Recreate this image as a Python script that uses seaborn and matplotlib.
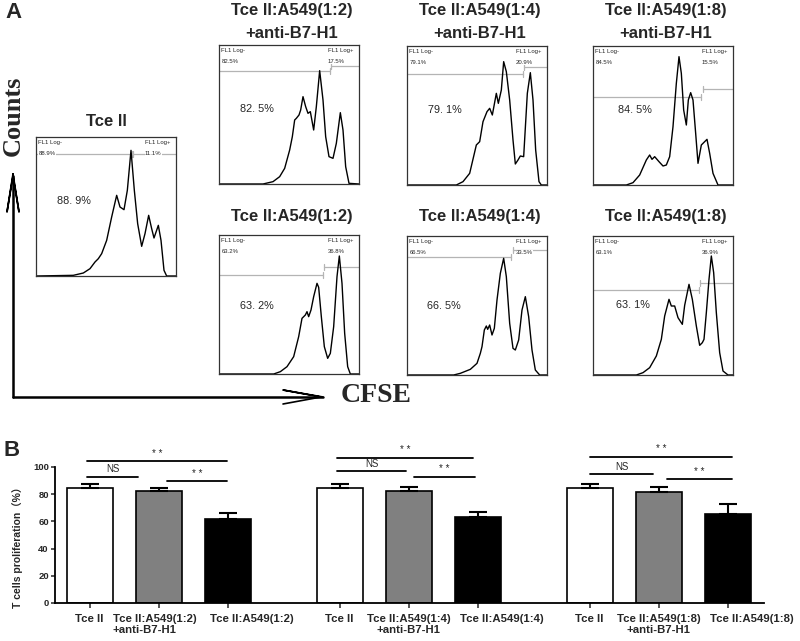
import matplotlib
matplotlib.use("Agg")
import matplotlib.pyplot as plt
import matplotlib.transforms as mtrans
import seaborn as sns
import pandas as pd
import numpy as np

sns.set_theme(style="white")
plt.rcParams['font.family'] = ['Liberation Sans', 'DejaVu Sans', 'Noto Sans CJK SC']

# ---------------- Panel A data (flow histograms, channel 0-420, counts 0-417) ----------------
tcell_x = [0, 112, 142, 162, 177, 187, 197, 212, 227, 242, 252, 264, 274, 285, 295, 305, 317, 327, 338, 347, 354, 367, 375, 384, 392, 420]
tcell_y = [0, 2, 9, 22, 42, 52, 67, 107, 177, 242, 207, 199, 257, 377, 257, 157, 89, 127, 182, 142, 114, 152, 107, 17, 0, 0]

r12a_x = [0, 132, 162, 182, 197, 212, 220, 227, 232, 240, 245, 252, 260, 267, 274, 284, 292, 302, 312, 320, 330, 342, 352, 364, 372, 380, 390, 420]
r12a_y = [0, 0, 7, 22, 47, 102, 142, 192, 197, 207, 222, 262, 232, 212, 217, 162, 232, 340, 252, 142, 82, 77, 122, 214, 162, 52, 2, 0]

r14a_x = [0, 148, 168, 188, 208, 218, 228, 240, 248, 256, 268, 274, 283, 290, 298, 308, 318, 325, 333, 340, 350, 361, 370, 378, 386, 396, 403, 420]
r14a_y = [0, 0, 10, 35, 120, 130, 190, 220, 230, 210, 275, 245, 285, 370, 340, 255, 135, 63, 75, 87, 85, 275, 337, 255, 105, 10, 0, 0]

r18a_x = [0, 100, 120, 140, 160, 170, 177, 185, 198, 210, 220, 230, 240, 250, 258, 265, 272, 280, 286, 293, 300, 308, 315, 325, 332, 342, 350, 360, 375, 420]
r18a_y = [0, 0, 7, 30, 75, 90, 77, 85, 70, 57, 60, 85, 175, 305, 385, 335, 225, 180, 255, 277, 255, 155, 65, 120, 127, 137, 95, 35, 0, 0]

r12_x = [0, 164, 184, 204, 224, 239, 249, 259, 264, 269, 276, 284, 294, 299, 307, 316, 326, 334, 344, 354, 361, 369, 377, 386, 394, 420]
r12_y = [0, 0, 7, 22, 52, 112, 167, 177, 187, 172, 192, 232, 272, 260, 172, 82, 47, 62, 142, 292, 354, 272, 122, 22, 0, 0]

r14_x = [0, 140, 160, 190, 210, 220, 225, 232, 238, 242, 248, 255, 262, 270, 280, 290, 298, 308, 318, 325, 335, 345, 355, 365, 375, 385, 398, 420]
r14_y = [0, 0, 5, 17, 35, 65, 85, 135, 147, 137, 150, 120, 140, 225, 305, 350, 295, 155, 80, 75, 105, 195, 235, 175, 75, 15, 0, 0]

r18_x = [0, 130, 150, 170, 190, 205, 215, 228, 235, 245, 255, 268, 275, 288, 298, 310, 320, 328, 333, 340, 348, 355, 362, 370, 380, 390, 405, 420]
r18_y = [0, 0, 7, 22, 57, 107, 177, 227, 207, 207, 172, 152, 209, 272, 227, 147, 89, 97, 107, 187, 287, 357, 307, 187, 67, 12, 0, 0]

titles = [["Tce ll"],
          ["Tce ll:A549(1:2)", "+anti-B7-H1"],
          ["Tce ll:A549(1:4)", "+anti-B7-H1"],
          ["Tce ll:A549(1:8)", "+anti-B7-H1"],
          ["Tce ll:A549(1:2)"],
          ["Tce ll:A549(1:4)"],
          ["Tce ll:A549(1:8)"]]
neg_pct = ["88.9%", "82.5%", "79.1%", "84.5%", "63.2%", "66.5%", "63.1%"]
pos_pct = ["11.1%", "17.5%", "20.9%", "15.5%", "36.8%", "33.5%", "36.9%"]
big_pct = ["88. 9%", "82. 5%", "79. 1%", "84. 5%", "63. 2%", "66. 5%", "63. 1%"]
gate_split = [287, 332, 348, 325, 312, 313, 318]
gate_left = [367, 340, 333, 265, 297, 353, 255]
gate_right = [367, 355, 353, 288, 322, 375, 275]
big_pct_xy = [(113, 225), (113, 224), (114, 225), (125, 225), (114, 204), (110, 207), (120, 209)]
traces = [(tcell_x, tcell_y), (r12a_x, r12a_y), (r14a_x, r14a_y), (r18a_x, r18a_y),
          (r12_x, r12_y), (r14_x, r14_y), (r18_x, r18_y)]

# ---------------- Panel B data ----------------
bar_labels = ["Tce ll", "Tce ll:A549(1:2)\n+anti-B7-H1", "Tce ll:A549(1:2)",
              "Tce ll", "Tce ll:A549(1:4)\n+anti-B7-H1", "Tce ll:A549(1:4)",
              "Tce ll", "Tce ll:A549(1:8)\n+anti-B7-H1", "Tce ll:A549(1:8)"]
conditions = ["Tcell", "anti", "coculture"] * 3
means = [84.3, 82.6, 61.8, 84.3, 82.4, 63.5, 84.6, 81.9, 65.4]
sems = [3.0, 2.2, 4.1, 3.2, 3.1, 3.7, 2.9, 3.2, 7.6]
sig_levels = [[104.4, 92.9, 89.5], [106.8, 96.8, 92.9], [107.6, 94.6, 91.2]]
sig_texts = ["* *", "NS", "* *"]

W, H = 800, 641
fig = plt.figure(figsize=(8, 6.41), dpi=100)


def px_axes(l, t, r, b):
    return fig.add_axes([l / W, 1 - b / H, (r - l) / W, (b - t) / H])


ov = fig.add_axes([0, 0, 1, 1])
ov.set_xlim(0, W)
ov.set_ylim(H, 0)
ov.axis("off")

boxes = [(36, 137, 176, 276), (219, 45, 359, 184), (407, 46, 547, 185), (593, 46, 733, 185),
         (219, 235, 359, 374), (407, 236, 547, 375), (593, 236, 733, 375)]

for i, (l, t, r, b) in enumerate(boxes):
    ax = px_axes(l, t, r, b)
    ax.set_xlim(0, 420)
    ax.set_ylim(0, 417)
    ax.set_xticks([])
    ax.set_yticks([])
    for s in ax.spines.values():
        s.set_visible(True)
        s.set_color("#333333")
        s.set_linewidth(0.9)
    gs, gl, gr = gate_split[i], gate_left[i], gate_right[i]
    gc = "#b4b4b4"
    ax.plot([0, gs], [gl, gl], color=gc, lw=0.9)
    ax.plot([gs, gs], [gl - 9, gl + 9], color=gc, lw=0.9)
    ax.plot([gs + 4, 420], [gr, gr], color=gc, lw=0.9)
    ax.plot([gs + 4, gs + 4], [gr - 9, gr + 9], color=gc, lw=0.9)
    bb = dict(facecolor="white", edgecolor="none", pad=0.3)
    ax.text(7, 407, "FL1 Log-", fontsize=4.3, va="top", ha="left", bbox=bb)
    ax.text(7, 375, neg_pct[i], fontsize=4.3, va="top", ha="left", bbox=bb)
    ax.text(327, 407, "FL1 Log+", fontsize=4.3, va="top", ha="left", bbox=bb)
    ax.text(327, 375, pos_pct[i], fontsize=4.3, va="top", ha="left", bbox=bb)
    xs, ys = traces[i]
    sns.lineplot(x=xs, y=ys, ax=ax, color="black", lw=1.0, sort=False, estimator=None)
    ax.text(big_pct_xy[i][0], big_pct_xy[i][1], big_pct[i], fontsize=7.8, ha="center", va="center")
    cx = (l + r) / 2
    if i == 0:
        ov.text(106, 122, titles[i][0], fontsize=12, fontweight="bold", ha="center", va="center")
    elif i < 4:
        ov.text(cx + 3, 10, titles[i][0], fontsize=12, fontweight="bold", ha="center", va="center")
        ov.text(cx + 3, 33, titles[i][1], fontsize=12, fontweight="bold", ha="center", va="center")
    else:
        ov.text(cx + 3, 217, titles[i][0], fontsize=12, fontweight="bold", ha="center", va="center")

# axes arrows
ov.plot([13, 13], [397, 176], color="black", lw=1.8)
ov.plot([13, 323], [397, 397], color="black", lw=1.8)
ov.plot([13, 7, 13, 19, 13], [174, 212, 176, 212, 174], color="black", lw=1.2)
ov.plot([323, 283, 321, 283], [397, 390, 397, 404], color="black", lw=1.2)
ov.text(13, 116, "Counts", rotation=90, fontsize=19, fontweight="bold",
        family=["Liberation Serif", "DejaVu Serif"], ha="center", va="center")
ov.text(376, 396, "CFSE", fontsize=20, fontweight="bold",
        family=["Liberation Serif", "DejaVu Serif"], ha="center", va="center")
ov.text(14, 13, "A", fontsize=16, fontweight="bold", ha="center", va="center")
ov.text(12, 451, "B", fontsize=16, fontweight="bold", ha="center", va="center")

# ---------------- Panel B ----------------
axb = px_axes(55, 467, 764, 603)
positions = [34.5 + g * 250 + c * 69 for g in range(3) for c in range(3)]
df = pd.DataFrame({"pos": positions, "mean": means, "cond": conditions})
pal = {"Tcell": "white", "anti": "#808080", "coculture": "black"}
sns.barplot(data=df, x="pos", y="mean", hue="cond", palette=pal, native_scale=True,
            dodge=False, width=46 / 69, edgecolor="black", linewidth=1.2,
            errorbar=None, legend=False, ax=axb)
axb.errorbar(positions, means, yerr=[np.zeros(len(sems)), sems], fmt="none",
             ecolor="black", elinewidth=1.5, capsize=6.5, capthick=1.5, zorder=5)
axb.set_xlim(0, 709)
axb.set_ylim(0, 100)
axb.set_yticks([0, 20, 40, 60, 80, 100])
axb.set_yticklabels(["0", "20", "40", "60", "80", "100"], fontsize=6.8, fontweight="bold")
axb.set_xticks(positions)
axb.set_xticklabels(bar_labels, fontsize=8.2, fontweight="bold", linespacing=1.1)
axb.tick_params(axis="y", direction="out", length=3, width=1.1, pad=1.5, left=True)
axb.tick_params(axis="x", direction="out", length=3.6, width=1.1, pad=4.5, bottom=True)
for s in ["top", "right"]:
    axb.spines[s].set_visible(False)
for s in ["left", "bottom"]:
    axb.spines[s].set_color("black")
    axb.spines[s].set_linewidth(1.3)
axb.set_xlabel("")
axb.set_ylabel("T cells proliferation（%）", fontsize=7.5, fontweight="bold")
axb.yaxis.set_label_coords(-0.045, 0.43)

# label alignment tweaks as in the reference
shift_black = mtrans.ScaledTranslation(24 / 100, 0, fig.dpi_scale_trans)
shift_grey1 = mtrans.ScaledTranslation(-4 / 100, 0, fig.dpi_scale_trans)
for k, lab in enumerate(axb.get_xticklabels()):
    c = k % 3
    if c == 2:
        lab.set_transform(lab.get_transform() + shift_black)
    elif c == 1:
        if k == 1:
            lab.set_multialignment("left")
            lab.set_transform(lab.get_transform() + shift_grey1)
        else:
            lab.set_multialignment("center")

sig_spans = [[(32, 172), (32, 83), (112, 172)],
             [(282, 418), (282, 351), (359, 420)],
             [(535, 677), (535, 598), (612, 677)]]
for g in range(3):
    for k in range(3):
        x0, x1 = sig_spans[g][k]
        yv = sig_levels[g][k]
        axb.plot([x0, x1], [yv, yv], color="black", lw=1.3, clip_on=False)
        axb.text((x0 + x1) / 2, yv + 1.8, sig_texts[k], fontsize=7, ha="center", va="bottom")

fig.savefig("out.png", dpi=100)
